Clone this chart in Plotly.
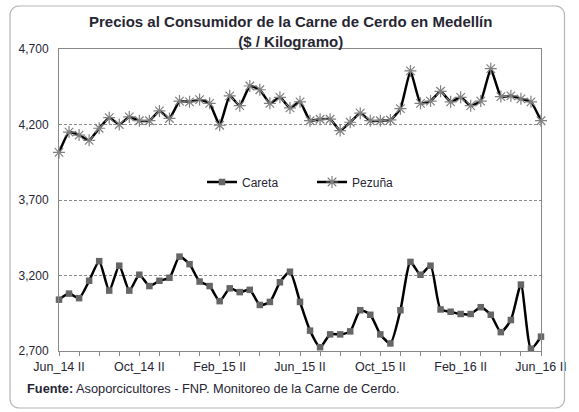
import math
import plotly.graph_objects as go

months = ["Jan", "Feb", "Mar", "Apr", "May", "Jun", "Jul", "Aug", "Sep", "Oct", "Nov", "Dec"]
periods = []
for yr in (14, 15, 16):
    for m in months:
        for half in ("I", "II"):
            periods.append(f"{m}_{yr} {half}")
start = periods.index("Jun_14 II")
end = periods.index("Jun_16 II")
periods = periods[start:end + 1]

careta = [3040, 3080, 3050, 3165, 3295, 3100, 3265, 3100, 3205, 3130, 3165, 3185, 3325,
          3275, 3160, 3130, 3030, 3115, 3090, 3105, 3005, 3025, 3155, 3225, 3025, 2835,
          2725, 2810, 2810, 2830, 2970, 2940, 2810, 2750, 2970, 3290, 3205, 3265, 2975,
          2960, 2945, 2945, 2990, 2940, 2825, 2905, 3140, 2715, 2795]
pezuna = [4015, 4150, 4130, 4095, 4175, 4245, 4200, 4250, 4225, 4225, 4290, 4240, 4355,
          4350, 4365, 4340, 4195, 4390, 4325, 4455, 4430, 4340, 4380, 4310, 4350, 4225,
          4235, 4235, 4160, 4215, 4275, 4225, 4225, 4230, 4305, 4555, 4340, 4355, 4420,
          4350, 4380, 4325, 4355, 4570, 4385, 4390, 4370, 4350, 4225]
tick_labels = ["Jun_14 II", "Oct_14 II", "Feb_15 II", "Jun_15 II", "Oct_15 II",
               "Feb_16 II", "Jun_16 II"]
y_ticks = [2700, 3200, 3700, 4200, 4700]

FONT = "Arial, 'Liberation Sans', sans-serif"
TXT = "#262633"

fig = go.Figure()
fig.add_trace(go.Scatter(
    x=periods, y=careta, name="Careta", mode="lines+markers",
    line=dict(color="black", width=2.5, shape="spline", smoothing=0.6),
    marker=dict(symbol="square", size=6.5, color="#666666"),
    cliponaxis=False))
fig.add_trace(go.Scatter(
    x=periods, y=pezuna, name="Pezuña", mode="lines+markers",
    line=dict(color="black", width=2.5, shape="spline", smoothing=0.4),
    marker=dict(symbol="asterisk-open", size=10, color="#808080",
                line=dict(color="#808080", width=1.2)),
    cliponaxis=False))

# plot area: x 59..551, y 49..351 (px)
L, R, T, B = 59, 551, 49, 351
W, H = R - L, B - T
def px(x):
    return (x - L) / W
def py(y):
    return (B - y) / H

# rounded frame (polygon approximation of rounded corners)
x0, x1, y0, y1, r = 9, 575, 6, 408, 9
corners = [(x1 - r, y0 + r, -90), (x1 - r, y1 - r, 0), (x0 + r, y1 - r, 90), (x0 + r, y0 + r, 180)]
pts = []
for cx, cy, a0 in corners:
    for k in range(7):
        a = math.radians(a0 + 15 * k)
        pts.append((cx + r * math.cos(a), cy + r * math.sin(a)))
path = "M " + " L ".join(f"{px(x):.5f},{py(y):.5f}" for x, y in pts) + " Z"
fig.add_shape(type="path", xref="paper", yref="paper", path=path,
              line=dict(color="#b5b5b5", width=1.2))

fig.update_layout(
    width=579, height=412,
    margin=dict(l=L, r=579 - R, t=T, b=412 - B),
    paper_bgcolor="white", plot_bgcolor="white",
    font=dict(family=FONT, size=11, color=TXT),
    showlegend=True,
    legend=dict(orientation="h", x=px(205), y=py(182), xanchor="left", yanchor="middle",
                bgcolor="rgba(0,0,0,0)", font=dict(size=12, color=TXT),
                itemwidth=30, entrywidth=65),
    xaxis=dict(type="category", range=[0, len(periods) - 1],
               tickmode="array", tickvals=[periods[i] for i in range(0, len(periods), 8)],
               ticktext=tick_labels, ticks="outside", ticklen=4, tickcolor="#888",
               minor=dict(tickmode="array",
                          tickvals=[periods[i] for i in range(0, len(periods), 2)],
                          ticks="outside", ticklen=4, tickcolor="#888"),
               showgrid=False, showline=True, linecolor="#888", linewidth=1, mirror=True,
               tickfont=dict(size=12.5, color=TXT)),
    yaxis=dict(range=[2700, 4700], tickmode="array", tickvals=y_ticks,
               tickformat=",d", showgrid=True, gridcolor="#8a8a8a", griddash="3px,2px",
               gridwidth=1, showline=True, linecolor="#888", linewidth=1, mirror=True,
               ticks="", ticklabelstandoff=7, tickfont=dict(size=12, color=TXT),
               zeroline=False),
)

fig.add_annotation(xref="paper", yref="paper", x=px(295), y=py(11), xanchor="center",
                   yanchor="top", showarrow=False, align="center",
                   text="<b>Precios al Consumidor de la Carne de Cerdo en Medellín<br>($ / Kilogramo)</b>",
                   font=dict(size=15, color=TXT, family=FONT))
fig.add_annotation(xref="paper", yref="paper", x=px(24), y=py(388), xanchor="left",
                   yanchor="middle", showarrow=False, align="left",
                   text="<b>Fuente:</b> Asoporcicultores - FNP. Monitoreo de la Carne de Cerdo.",
                   font=dict(size=12.8, color=TXT, family=FONT))

fig.write_html("out.html", config={"displayModeBar": False},
               post_script="document.body.style.margin='0';document.body.style.padding='0';")
